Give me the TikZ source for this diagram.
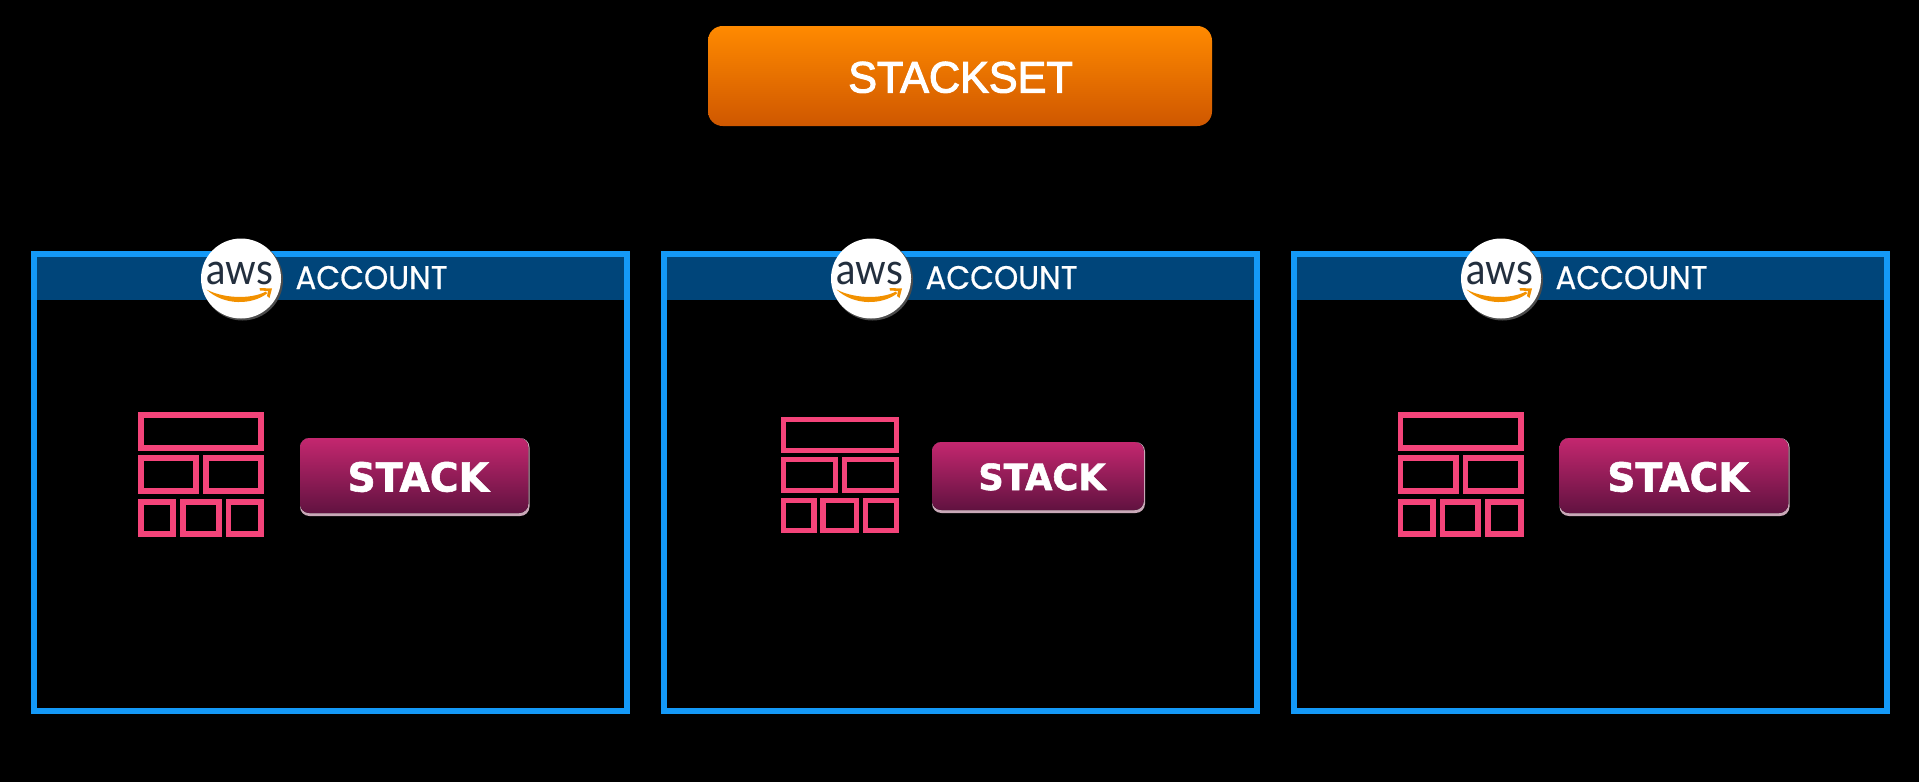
\documentclass[tikz,border=0pt]{standalone}
\usepackage{fontspec}
\setmainfont{Liberation Sans}
\newfontfamily\headf[FakeBold=2.5]{Liberation Sans}
\newfontfamily\popf[FakeBold=0.6]{Poppins}
\newfontfamily\latof{Lato}
\newfontfamily\dejaf[BoldFeatures={FakeBold=1.5}]{DejaVu Sans}
\usetikzlibrary{calc}
\definecolor{bandblue}{HTML}{00457A}
\definecolor{borderblue}{HTML}{1499F7}
\definecolor{iconpink}{HTML}{F4447A}
\definecolor{orangetop}{HTML}{FF8A00}
\definecolor{orangebot}{HTML}{CF5700}
\definecolor{stacktop}{HTML}{C4276F}
\definecolor{stackbot}{HTML}{611240}
\definecolor{stackedge}{HTML}{C9A9B8}
\definecolor{awsink}{HTML}{232F3E}
\definecolor{smile}{HTML}{F29100}
\tikzset{
  frameline/.style={draw=borderblue,line width=4.5pt},
  cellline/.style={draw=iconpink,line width=4.2pt},
  labeltext/.style={text=white,inner sep=0pt,anchor=base},
}
\newcommand\acctbox[2]{%
 \begin{scope}[shift={(#1,0)}]
  \fill[bandblue] (33,253) rectangle (627,300);
  \draw[frameline] (33.5,253.5) rectangle (626.5,711);
  \fill[gray!60!black] (242.5,280) circle[radius=40.5];
  \node[circle,fill=white,minimum size=60pt,inner sep=0pt] (logo#2) at (241,278.5) {};
  \node[labeltext,text=awsink,font=\latof\fontsize{32.6}{32.6}\selectfont] (aws#2) at (239.5,284) {\scalebox{0.9}[1]{aws}};
  \fill[smile] (206.5,289.5) .. controls (222,298) and (250,300) .. (266,291.5) -- (267,293.5) .. controls (252,305) and (224,306) .. (206.5,289.5) -- cycle;
  \fill[smile] (259.5,288) -- (272,288.5) -- (269.5,298) -- (267,296) -- (268,291) -- (260,290.5) -- cycle;
  \node[labeltext,font=\popf\fontsize{24.5}{24.5}\selectfont] (acct#2) at (371.5,289) {\scalebox{0.945}[1]{ACCOUNT}};
 \end{scope}}
\newcommand\iconset[4]{%
 \begin{scope}[shift={(#1,#2)},xscale=#3,yscale=#4]
  \draw[cellline] (2.8,2.8) rectangle (123.2,36);
  \draw[cellline] (2.8,45.8) rectangle (58.2,79.2);
  \draw[cellline] (67.8,45.8) rectangle (123.2,79.2);
  \draw[cellline] (2.8,89.8) rectangle (35.2,122.2);
  \draw[cellline] (44.8,89.8) rectangle (80.7,122.2);
  \draw[cellline] (90.3,89.8) rectangle (123.2,122.2);
 \end{scope}}
% left, top, right, bottom, text baseline, font size, name
\newcommand\stackbtn[7]{%
  \fill[stackedge,rounded corners=7pt] (#1,#2) rectangle (#3,#4);
  \fill[rounded corners=7pt,top color=stacktop,bottom color=stackbot] (#1,#2) rectangle ($(#3,#4)+(-1.2,-3)$);
  \node[labeltext,font=\dejaf\bfseries\fontsize{#6}{#6}\selectfont] (#7) at ($(#1,0)!0.5!(#3,0)+(3.5,#5)$) {\scalebox{0.98}[1]{STACK}};}
\begin{document}
\begin{tikzpicture}[x=0.75pt,y=-0.75pt]
\useasboundingbox (0,0) rectangle (1919,782);
\fill[black] (0,0) rectangle (1919,782);
\fill[rounded corners=11pt,top color=orangetop,bottom color=orangebot] (708,26) rectangle (1212,126);
\node[labeltext,font=\headf\fontsize{33}{33}\selectfont] (stackset) at (960.5,92.5) {\scalebox{0.98}[1]{STACKSET}};
\acctbox{0}{A}
\acctbox{630}{B}
\acctbox{1260}{C}
\iconset{138}{412}{1}{1}
\iconset{781}{417}{0.937}{0.93}
\iconset{1397.5}{412}{1}{1}
\stackbtn{300}{438}{529.5}{516}{491.5}{30}{stackA}
\stackbtn{932}{442}{1145}{513}{490}{27}{stackB}
\stackbtn{1559.5}{438}{1789.5}{516}{491.5}{30}{stackC}
\end{tikzpicture}
\end{document}
